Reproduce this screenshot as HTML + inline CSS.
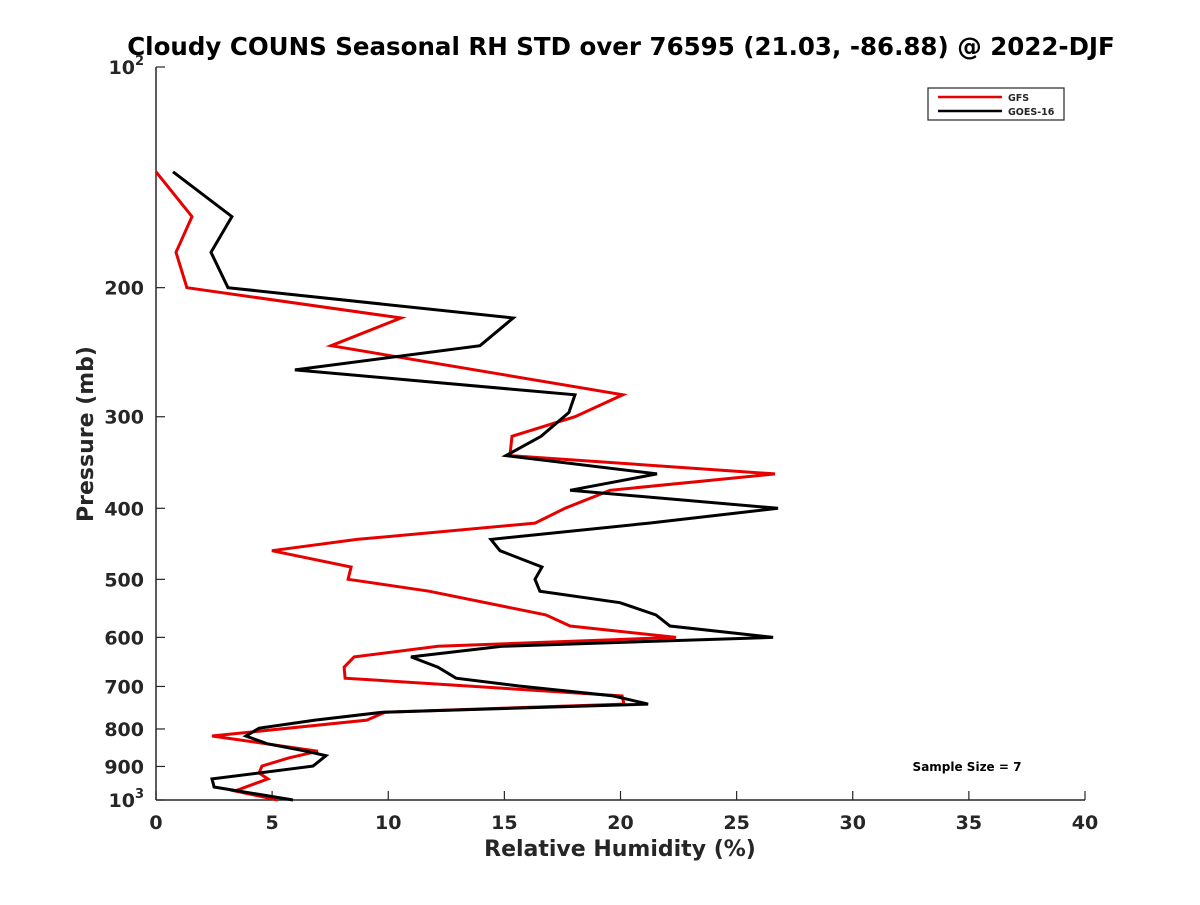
<!DOCTYPE html>
<html><head><meta charset="utf-8"><style>
body{margin:0;background:#fff;}
svg text{font-family:"DejaVu Sans","Liberation Sans",sans-serif;font-weight:bold;fill:#262626;}
</style></head><body>
<svg id="chart" width="1200" height="900" xmlns="http://www.w3.org/2000/svg">
<text x="621" y="55" font-size="24.5" text-anchor="middle" style="fill:#000">Cloudy COUNS Seasonal RH STD over 76595 (21.03, -86.88) @ 2022-DJF</text>
<g id="axes"></g>
<g id="series"></g>
<g>
<rect x="928" y="88" width="136" height="32" fill="#fff" stroke="#262626" stroke-width="1.2"/>
<line x1="938" y1="97" x2="1002" y2="97" stroke="#e60000" stroke-width="2.5"/>
<text x="1008" y="101" font-size="9.5">GFS</text>
<line x1="938" y1="111" x2="1002" y2="111" stroke="#000" stroke-width="2.5"/>
<text x="1008" y="115" font-size="9.5">GOES-16</text>
</g>
<text x="967" y="771" font-size="12" text-anchor="middle" style="fill:#000">Sample Size = 7</text>
<text x="620" y="856" font-size="22" text-anchor="middle">Relative Humidity (%)</text>
<text transform="translate(93,434) rotate(-90)" font-size="22" text-anchor="middle">Pressure (mb)</text>
</svg>
<script>
const xTicks=[0,5,10,15,20,25,30,35,40];
const yTicks=[100,200,300,400,500,600,700,800,900,1000];
const gfsP=[139,160,179,200,220,240,280,300,319,339,359,378,400,419,441,457,481,500,519,559,579,600,617,638,659,682,721,740,759,778,818,858,876,899,919,936,972,1000];
const gfsV=[0,1.55,0.86,1.33,10.55,7.54,20.1,18.04,15.33,15.24,26.65,19.55,17.61,16.32,8.65,4.99,8.4,8.27,11.75,16.79,17.83,22.39,12.14,8.53,8.1,8.14,20.07,20.15,9.86,9.08,2.41,6.97,5.72,4.56,4.44,4.82,3.4,5.25];
const goesP=[139,160,179,200,220,240,259,280,296,319,339,359,378,400,419,441,457,481,500,519,538,559,579,600,617,638,659,682,699,721,740,759,778,798,818,838,858,870,899,936,960,1000];
const goesV=[0.73,3.27,2.37,3.1,15.38,13.95,5.98,18.04,17.78,16.58,15.07,21.57,17.83,26.78,21.23,14.42,14.81,16.62,16.32,16.53,19.98,21.53,22.13,26.57,14.9,10.98,12.14,12.92,15.63,19.68,21.19,9.77,6.85,4.44,3.87,4.78,6.46,7.32,6.76,2.41,2.5,5.9];
const X0=156,X1=1085,Y0=67,Y1=800;
const xs=v=>X0+(v-0)/(40-0)*(X1-X0);
const ys=p=>Y0+(Math.log10(p)-2)*(Y1-Y0);
const NS="http://www.w3.org/2000/svg";
const axes=document.getElementById('axes'),ser=document.getElementById('series');
function mk(tag,attrs,parent){const e=document.createElementNS(NS,tag);for(const k in attrs)e.setAttribute(k,attrs[k]);parent.appendChild(e);return e;}
const xl=mk('line',{x1:X0,y1:Y1,x2:X1,y2:Y1,stroke:'#262626','stroke-width':1.5},axes);


const yl=mk('line',{x1:X0,y1:Y0,x2:X0,y2:Y1,stroke:'#262626','stroke-width':1.5},axes);


xTicks.forEach(t=>{const x=xs(t);
mk('line',{x1:x,y1:Y1,x2:x,y2:Y1-9,stroke:'#262626','stroke-width':1.2},axes);
const tx=mk('text',{x:x,y:Y1+29,'font-size':19,'text-anchor':'middle'},axes);tx.textContent=t;

});
yTicks.forEach(t=>{const y=ys(t);
mk('line',{x1:X0,y1:y,x2:X0+9,y2:y,stroke:'#262626','stroke-width':1.2},axes);
const tx=mk('text',{x:X0-12,y:y+7,'font-size':19,'text-anchor':'end'},axes);
if(t===100||t===1000){tx.textContent='10';const s=mk('tspan',{dy:-9,'font-size':13},tx);s.textContent=t===100?'2':'3';}
else tx.textContent=t;

});
function line(P,V,col,name){const pts=P.map((p,i)=>xs(V[i]).toFixed(1)+','+ys(p).toFixed(1)).join(' ');
const pl=mk('polyline',{points:pts,fill:'none',stroke:col,'stroke-width':3,'stroke-linejoin':'miter'},ser);

}
line(gfsP,gfsV,'#e60000','gfs-line');
line(goesP,goesV,'#000','goes16-line');
</script>
</body></html>
